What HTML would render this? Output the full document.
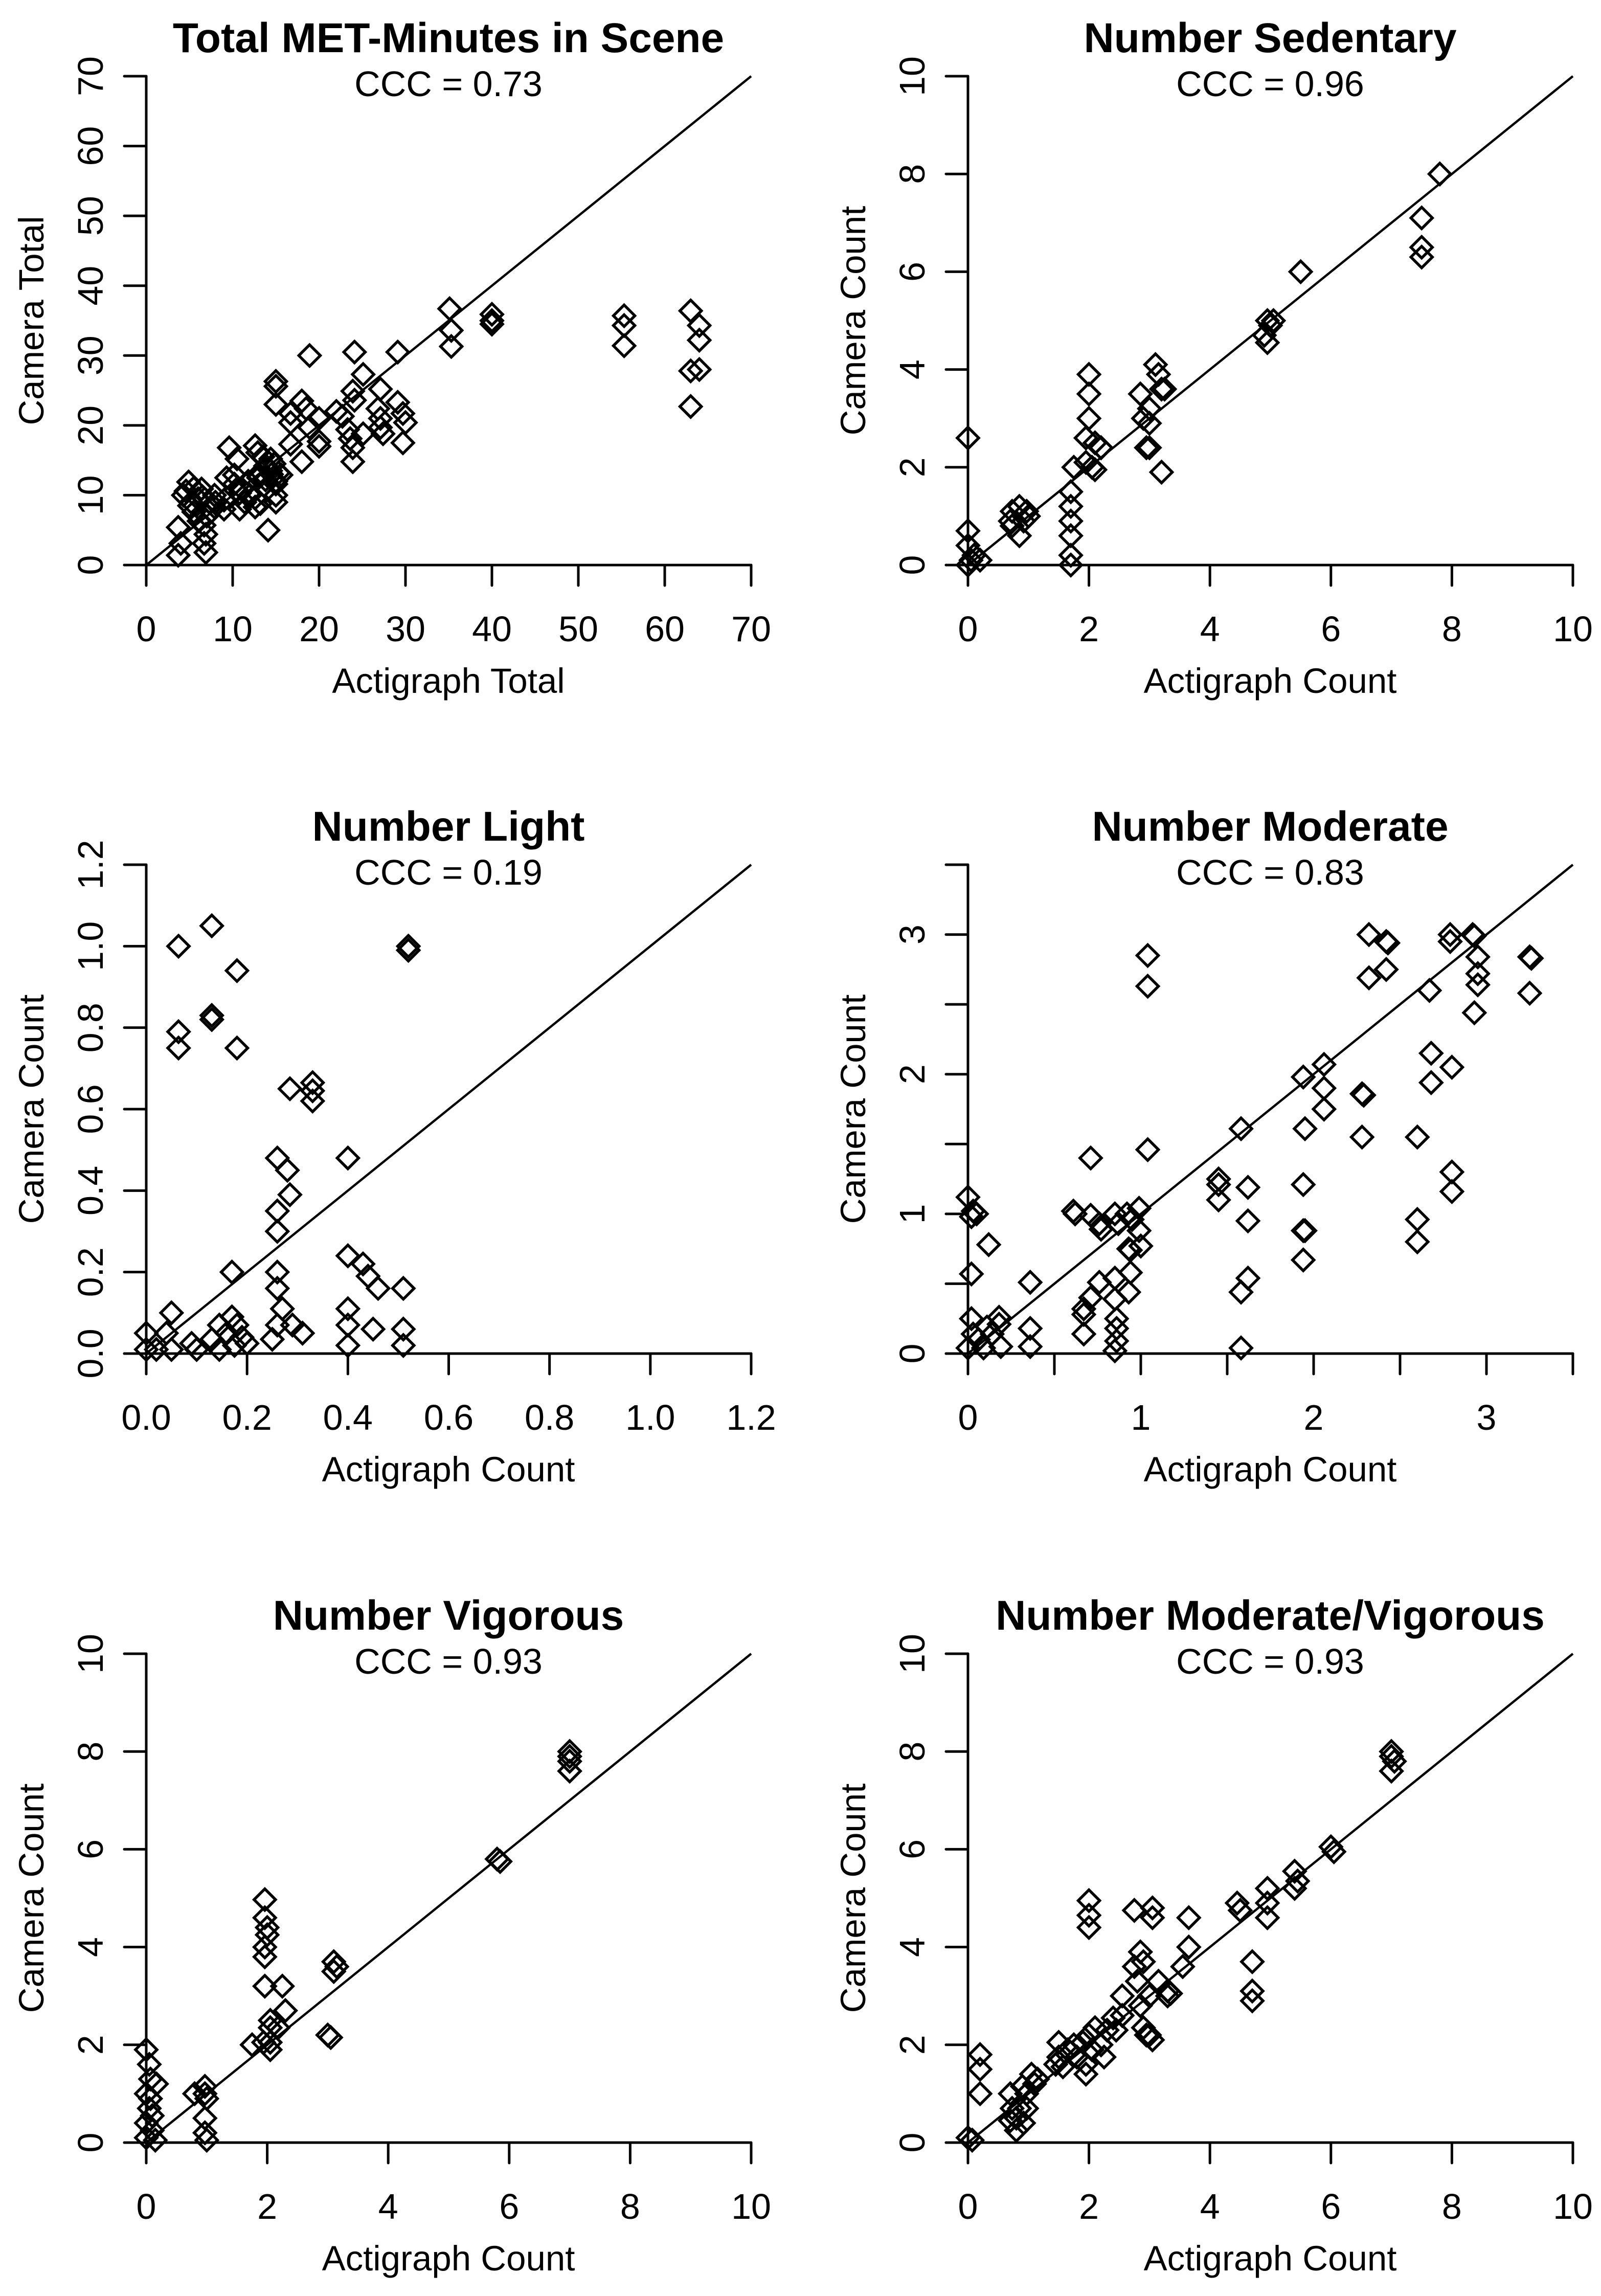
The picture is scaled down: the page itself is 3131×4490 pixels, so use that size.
<!DOCTYPE html>
<html><head><meta charset="utf-8"><style>
html,body{margin:0;padding:0;background:#fff;}
svg{display:block;font-family:"Liberation Sans",Arial,sans-serif;}
</style></head><body>
<svg id="fig" xmlns="http://www.w3.org/2000/svg" width="3131" height="4490" viewBox="0 0 3131 4490"></svg>
<script>
// ---- data (x = Actigraph, y = Camera) ----
const totalX=[35.1,35.3,35.3,40,40,40,55.3,55.3,55.3,63,64,64,63,64,63,18.9,24.1,29.1,25.1,27.1,15,15,15,18,18.5,16.7,16.7,20,18.9,20,20,16.7,18,22,22.7,23.9,24.1,23.3,23.6,23.9,23.9,25.1,26.8,27.1,27.1,27.4,29.1,29.7,30,29.7,9.6,12.6,12.9,10.5,13.8,14.1,15,15,3.7,4,3.7,6.7,6.9,6.9,4.3,4.9,4.6,5.2,5.5,6.1,6.4,7.3,7.9,6.7,9,9.3,10.2,10.8,11.4,12.6,12.9,12.6,13.8,14.4,15.3,13.5,14.4,15.6,15,10.2,9,10.8,7.9,5,6,7,8,11,12,13,14,14.5,15,5.5,6.5,13.2,14.8,11.8];
const totalY=[36.7,33.6,31.3,35.9,35,34.5,35.7,34.3,31.4,36.4,34.3,32.2,27.8,28,22.7,30,30.5,30.5,27.3,25.2,26.3,25.6,23,23.5,22.4,21.7,20.4,21,19.7,17.7,17,17.3,14.8,22,21.3,24.9,23.6,19.4,18.1,16.8,14.8,18.8,22.4,21,19.7,18.8,23.3,21.7,20.4,17.5,16.8,17.1,16.1,15.2,14.2,5,9,10,5.4,3.1,1.4,3.1,1.8,4.4,10,11.9,10.6,9,7.6,6.3,10.9,9,10,5.7,9.3,12.5,11.6,10.3,9,8.3,12.9,9.6,12.2,13.5,13.2,15.5,15.2,12.9,11.6,12.9,8,8,8.3,8.5,9.5,7,9,11,10,12.5,14,13,12,11,9.8,8.8,14.5,12,11.5];
const sedX=[0,0,0,0.1,0.2,0,0.73,0.85,0.92,0.97,0.73,0.85,1,0.7,1.7,1.7,1.7,1.7,1.7,1.7,1.75,2,2,2,1.95,2.05,2.1,2.2,2.1,1.95,2.2,2.85,2.9,3,3,3.1,3.15,3.2,3.25,2.95,3,3.2,4.95,5,4.9,4.95,5.05,5.5,7.5,7.5,7.5,7.8,0.05];
const sedY=[2.6,0.7,0.4,0.2,0.1,0,1.1,1.2,0.9,1.1,0.8,0.6,1.0,0.9,1.5,1.2,0.9,0.6,0.2,0,2.0,3.9,3.5,3,2.6,2.0,2.5,2.4,1.95,2.1,2.4,3.5,3.0,3.2,2.9,4.1,3.9,3.6,3.6,2.4,2.4,1.9,5.0,4.9,4.7,4.55,5.0,6.0,7.1,6.5,6.3,8.0,0.1];
const lightX=[0.064,0.13,0.064,0.064,0.13,0.13,0.18,0.18,0.52,0.52,0.285,0.33,0.33,0.33,0.4,0.26,0.28,0.285,0.26,0.26,0.17,0.26,0.4,0.43,0.44,0.46,0.51,0.4,0.4,0.4,0.45,0.51,0.51,0.26,0.27,0.26,0.29,0.31,0.25,0.05,0.04,0,0,0.05,0.09,0.1,0.13,0.145,0.16,0.17,0.18,0.19,0.175,0.2,0.145,0.02];
const lightY=[1.0,1.05,0.79,0.75,0.83,0.82,0.94,0.75,1.0,0.99,0.65,0.665,0.645,0.62,0.48,0.48,0.45,0.39,0.35,0.30,0.20,0.20,0.24,0.22,0.19,0.16,0.16,0.11,0.07,0.02,0.06,0.06,0.02,0.16,0.11,0.07,0.07,0.05,0.035,0.1,0.05,0.05,0.01,0.01,0.025,0.01,0.035,0.07,0.05,0.09,0.07,0.04,0.02,0.025,0.01,0.01];
const modX=[0,0.03,0.05,0.02,0.12,0.02,0.02,0.03,0,0.06,0.11,0.14,0.18,0.18,0.19,0.09,0.36,0.36,0.36,0.61,0.62,0.71,0.71,0.76,0.77,0.85,0.87,0.92,0.95,0.99,0.99,0.93,0.94,1.0,0.94,0.93,0.85,0.76,0.71,0.67,0.67,0.67,0.85,0.86,0.86,0.86,0.85,1.04,1.04,1.04,1.45,1.45,1.45,1.58,1.62,1.62,1.62,1.58,1.58,1.94,2.06,2.06,2.06,1.95,1.94,1.94,1.95,1.94,2.28,2.29,2.28,2.32,2.32,2.42,2.43,2.42,2.67,2.68,2.68,2.6,2.6,2.6,2.79,2.79,2.8,2.8,2.8,2.92,2.93,2.95,2.95,2.95,2.93,3.25,3.26,3.25];
const modY=[1.12,1.02,1.0,0.98,0.78,0.57,0.25,0.14,0.04,0.1,0.19,0.14,0.26,0.21,0.05,0.04,0.51,0.18,0.05,1.02,1.0,1.4,0.99,0.93,0.89,1.0,0.93,1.0,0.96,1.04,0.88,0.75,0.74,0.77,0.58,0.44,0.54,0.51,0.4,0.32,0.28,0.14,0.39,0.25,0.18,0.09,0.02,2.85,2.63,1.46,1.25,1.21,1.1,1.61,1.19,0.95,0.54,0.44,0.04,1.98,2.07,1.9,1.75,1.61,1.21,0.88,0.88,0.67,1.86,1.85,1.55,3.0,2.69,2.95,2.94,2.75,2.6,2.15,1.94,1.55,0.96,0.8,3.0,2.95,2.05,1.3,1.16,3.0,2.99,2.84,2.72,2.64,2.44,2.84,2.83,2.58];
const vigX=[0,0.05,0.07,0,0.05,0.1,0,0.1,0,0.15,0.07,0.17,0.8,0.97,0.97,1.0,0.97,0.97,1.0,1.96,1.96,2,2,1.96,1.96,1.96,2.25,2.3,2.05,2.05,1.94,1.75,2.05,2.05,2.18,3.1,3.15,3.1,3.0,3.05,5.8,5.85,7.0,7.0,7.0,7.0];
const vigY=[1.9,1.6,1.3,1.0,0.7,0.55,0.4,0.25,0.1,0.05,0.9,1.2,1.0,1.15,1.0,0.9,0.5,0.2,0.05,4.97,4.6,4.4,4.25,4.0,3.8,3.2,3.2,2.7,2.5,2.35,2.05,2.0,2.05,1.9,2.35,3.7,3.6,3.5,2.2,2.15,5.8,5.75,8.0,7.9,7.8,7.6];
const mvX=[0.2,0.2,0.2,0.07,0,0.7,0.73,0.8,0.85,0.9,0.97,1.05,1.1,1.15,0.92,0.7,0.8,0.97,1.5,1.5,1.45,1.57,1.65,1.75,1.8,1.9,1.95,1.95,2,2,2,2,2.05,2.1,2.2,2.25,2.3,2.4,2.45,2.55,2.55,2.75,2.75,2.85,2.9,2.8,2.85,2.9,2.95,3,3,3.05,3.05,3.05,3.15,3.3,3.35,3.3,3.55,3.65,3.65,4.45,4.5,4.7,4.7,4.7,4.95,4.95,4.95,5.4,5.45,5.4,6,6.05,7,7,7.05,7];
const mvY=[1.8,1.5,1.0,0.05,0.1,1.0,0.7,0.5,0.7,1.15,1.0,1.4,1.2,1.3,0.4,0.45,0.25,0.7,2.05,1.75,1.6,1.55,1.9,2.0,1.75,2.05,1.6,1.4,2.2,4.95,4.65,4.4,1.9,2.35,2.0,1.75,2.3,2.55,2.3,2.6,3.0,4.75,3.6,3.9,3.7,3.3,2.8,2.35,2.2,3.0,2.2,2.1,4.8,4.6,3.3,3.1,3.05,3.0,3.6,4.0,4.6,4.9,4.75,3.7,3.1,2.9,5.2,4.9,4.6,5.55,5.35,5.2,6.05,5.95,8.0,7.9,7.8,7.6];
// tick labels
const ticksTotal=[0,10,20,30,40,50,60,70];
const ticksTen=[0,2,4,6,8,10];
const ticksLight=[0,0.2,0.4,0.6,0.8,1.0,1.2];
const ticksMod=[0,0.5,1,1.5,2,2.5,3,3.5];
const labelsMod=[0,1,2,3];

const NS="http://www.w3.org/2000/svg";
const svg=document.getElementById('fig');
function mk(tag,attrs,parent){const e=document.createElementNS(NS,tag);for(const k in attrs)e.setAttribute(k,attrs[k]);(parent||svg).appendChild(e);return e;}
const W=1183,H=956;
function panel(o){
  const g=mk('g',{});
  
  
  const ox=o.ox,oy=o.oy;
  const sx=v=>ox+v/o.max*W, sy=v=>oy-v/o.max*H;
  const dec=o.dec||0;
  const xa=mk('line',{x1:ox-43,y1:oy,x2:ox+W,y2:oy,stroke:'#000','stroke-width':5,'stroke-linecap':'round'},g);
  
  
  const ya=mk('line',{x1:ox,y1:oy+40,x2:ox,y2:oy-H,stroke:'#000','stroke-width':5,'stroke-linecap':'round'},g);
  
  
  o.ticks.forEach(t=>{
    mk('line',{x1:sx(t),y1:oy,x2:sx(t),y2:oy+40,stroke:'#000','stroke-width':5,'stroke-linecap':'round'},g);
    mk('line',{x1:ox,y1:sy(t),x2:ox-43,y2:sy(t),stroke:'#000','stroke-width':5,'stroke-linecap':'round'},g);
  });
  o.labels.forEach(t=>{
    const s=t.toFixed(dec);
    const tx=mk('text',{x:sx(t),y:oy+149,'font-size':70,'text-anchor':'middle'},g);tx.textContent=s;
    
    
    const ty=mk('text',{x:0,y:0,'font-size':70,'text-anchor':'middle',transform:`translate(${ox-85},${sy(t)}) rotate(-90)`},g);ty.textContent=s;
    
    
  });
  const il=mk('line',{x1:sx(0),y1:sy(0),x2:sx(o.max),y2:sy(o.max),stroke:'#000','stroke-width':4.5},g);
  
  
  const r=21;
  o.xs.forEach((x,i)=>{
    const cx=sx(x),cy=sy(o.ys[i]);
    const p=mk('polygon',{points:`${cx},${cy-r} ${cx+r},${cy} ${cx},${cy+r} ${cx-r},${cy}`,fill:'none',stroke:'#000','stroke-width':5.5},g);
    
    
  });
  const tt=mk('text',{x:ox+591,y:oy-1003,'font-size':82,'font-weight':'bold','text-anchor':'middle'},g);tt.textContent=o.title;
  
  
  const cc=mk('text',{x:ox+591,y:oy-917,'font-size':70,'text-anchor':'middle'},g);cc.textContent=o.ccc;
  
  
  const xt=mk('text',{x:ox+591,y:oy+250,'font-size':69,'text-anchor':'middle'},g);xt.textContent=o.xl;
  
  
  const yt=mk('text',{x:0,y:0,'font-size':69,'text-anchor':'middle',transform:`translate(${ox-201},${oy-478}) rotate(-90)`},g);yt.textContent=o.yl;
  
  
}
const LX=286,RX=1893,R1=1105,R2=2647,R3=4190;
panel({name:'panel-total-met',ox:LX,oy:R1,max:70,ticks:ticksTotal,labels:ticksTotal,xs:totalX,ys:totalY,title:'Total MET-Minutes in Scene',ccc:'CCC = 0.73',xl:'Actigraph Total',yl:'Camera Total'});
panel({name:'panel-sedentary',ox:RX,oy:R1,max:10,ticks:ticksTen,labels:ticksTen,xs:sedX,ys:sedY,title:'Number Sedentary',ccc:'CCC = 0.96',xl:'Actigraph Count',yl:'Camera Count'});
panel({name:'panel-light',ox:LX,oy:R2,max:1.2,dec:1,ticks:ticksLight,labels:ticksLight,xs:lightX,ys:lightY,title:'Number Light',ccc:'CCC = 0.19',xl:'Actigraph Count',yl:'Camera Count'});
panel({name:'panel-moderate',ox:RX,oy:R2,max:3.5,ticks:ticksMod,labels:labelsMod,xs:modX,ys:modY,title:'Number Moderate',ccc:'CCC = 0.83',xl:'Actigraph Count',yl:'Camera Count'});
panel({name:'panel-vigorous',ox:LX,oy:R3,max:10,ticks:ticksTen,labels:ticksTen,xs:vigX,ys:vigY,title:'Number Vigorous',ccc:'CCC = 0.93',xl:'Actigraph Count',yl:'Camera Count'});
panel({name:'panel-mvpa',ox:RX,oy:R3,max:10,ticks:ticksTen,labels:ticksTen,xs:mvX,ys:mvY,title:'Number Moderate/Vigorous',ccc:'CCC = 0.93',xl:'Actigraph Count',yl:'Camera Count'});
</script>
</body></html>
